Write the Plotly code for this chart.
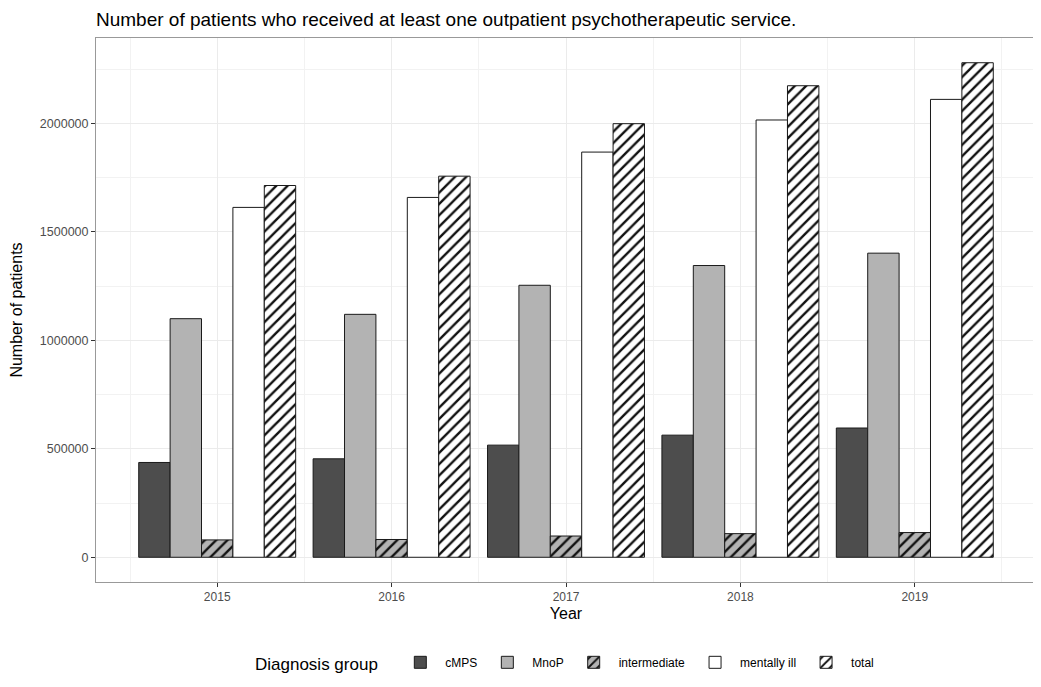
import plotly.graph_objects as go

years = [2015, 2016, 2017, 2018, 2019]
groups = ['cMPS', 'MnoP', 'intermediate', 'mentally ill', 'total']

cmps = [437000, 454000, 517000, 563000, 596000]
mnop = [1100000, 1120000, 1254000, 1345000, 1402000]
intermediate = [80000, 82000, 98000, 109000, 114000]
mentally_ill = [1613000, 1659000, 1868000, 2016000, 2111000]
total = [1714000, 1757000, 1999000, 2174000, 2280000]

series = [cmps, mnop, intermediate, mentally_ill, total]
fills = ['#4d4d4d', '#b3b3b3', '#b3b3b3', '#ffffff', '#ffffff']
hatched = [False, False, True, False, True]

# page body has an 8px margin, so the figure is a bit smaller than the window
W, H = 1033, 679

fig = go.Figure()
for name, vals, col, hatch in zip(groups, series, fills, hatched):
    marker = dict(color=col, line=dict(color='#1a1a1a', width=1))
    if hatch:
        marker['pattern'] = dict(shape='/', fgcolor='#111111', bgcolor=col,
                                 size=8, solidity=0.3, fillmode='replace')
    fig.add_trace(go.Bar(x=years, y=vals, name=name, marker=marker))

fig.update_layout(
    width=W, height=H,
    barmode='group', bargap=0.1, bargroupgap=0,
    paper_bgcolor='white', plot_bgcolor='white',
    font=dict(family='Liberation Sans, Arial, sans-serif', color='black'),
    margin=dict(l=88, r=5, t=30, b=105),
    title=dict(text='Number of patients who received at least one outpatient psychotherapeutic service.',
               x=88 / W, xanchor='left', y=1 - 11 / H, yanchor='middle',
               font=dict(size=19, color='black')),
    legend=dict(orientation='h', x=0.5, xanchor='center', y=-0.121, yanchor='top',
                title=dict(text='Diagnosis group  ', font=dict(size=17)),
                font=dict(size=12), itemwidth=40),
)
fig.update_xaxes(
    range=[2014.305, 2019.695], tickvals=years, ticktext=[str(y) for y in years],
    showgrid=True, gridcolor='#ebebeb', gridwidth=1,
    minor=dict(dtick=0.5, tick0=2014.5, showgrid=True, gridcolor='#f2f2f2', gridwidth=1),
    ticks='outside', ticklen=4, tickcolor='#333333',
    tickfont=dict(size=12, color='#4d4d4d'),
    showline=True, linecolor='#999999', mirror=True, zeroline=False,
    title=dict(text='Year', font=dict(size=16), standoff=4), automargin=False,
)
fig.update_yaxes(
    range=[-max(total) * 0.05, max(total) * 1.05], tickvals=[0, 500000, 1000000, 1500000, 2000000],
    ticktext=['0', '500000', '1000000', '1500000', '2000000'],
    showgrid=True, gridcolor='#ebebeb', gridwidth=1,
    minor=dict(dtick=250000, tick0=0, showgrid=True, gridcolor='#f2f2f2', gridwidth=1),
    ticks='outside', ticklen=4, tickcolor='#333333',
    tickfont=dict(size=12.5, color='#4d4d4d'),
    showline=True, linecolor='#999999', mirror=True, zeroline=False,
    title=dict(text='Number of patients', font=dict(size=16), standoff=14), automargin=False,
)

fig.write_html('out.html')
